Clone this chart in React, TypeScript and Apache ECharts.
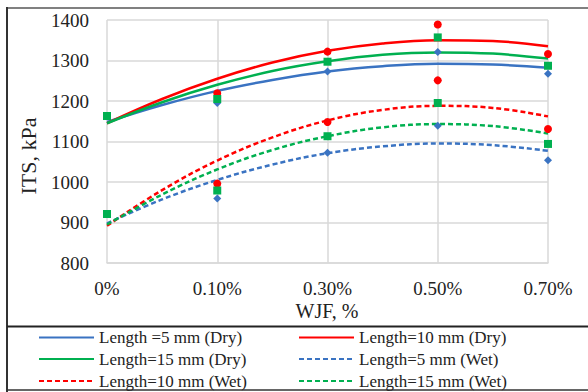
import React, { useEffect, useRef } from 'react';
import * as echarts from 'echarts';

const categories = ['0%', '0.10%', '0.30%', '0.50%', '0.70%'];
const catX = [0, 1, 2, 3, 4];
const yMin = 800;
const yMax = 1400;
const yInterval = 100;

// measured points (markers)
const dry5 = [1163, 1195, 1273, 1321, 1267];
const dry10 = [1163, 1219, 1322, 1389, 1316];
const dry15 = [1163, 1205, 1297, 1357, 1287];
const wet5 = [921, 959, 1072, 1139, 1054];
const wet10 = [921, 996, 1148, 1251, 1131];
const wet15 = [921, 979, 1113, 1195, 1094];

// polynomial trendlines at each category and half-way between
const trendX = [0, 0.5, 1, 1.5, 2, 2.5, 3, 3.5, 4];
const trendDry5 = [1148, 1190, 1225, 1252, 1273, 1286, 1292, 1290, 1282];
const trendDry10 = [1145, 1205, 1255, 1295, 1324, 1342, 1350, 1348, 1335];
const trendDry15 = [1145, 1197, 1240, 1274, 1298, 1314, 1320, 1317, 1305];
const trendWet5 = [898, 957, 1005, 1043, 1071, 1088, 1095, 1091, 1077];
const trendWet10 = [892, 980, 1053, 1110, 1152, 1178, 1188, 1183, 1162];
const trendWet15 = [895, 969, 1031, 1079, 1113, 1135, 1143, 1138, 1120];

const names = [
  'Length =5 mm (Dry)',
  'Length=10 mm (Dry)',
  'Length=15 mm (Dry)',
  'Length=5 mm (Wet)',
  'Length=10 mm (Wet)',
  'Length=15 mm (Wet)',
];

const BLUE = '#3a73c2';
const RED = '#ff0000';
const GREEN = '#00b050';
const FONT = 'Liberation Serif';
const TEXT = '#222222';

const pair = (xs: number[], ys: number[]) => ys.map((y, i) => [xs[i], y]);

export default function App() {
  const ref = useRef<HTMLDivElement>(null);
  useEffect(() => {
    if (!ref.current) return;
    const chart = echarts.init(ref.current, null, { renderer: 'svg' });

    const trend = (name: string, data: number[], color: string, dashed: boolean) => ({
      name,
      type: 'line',
      data: pair(trendX, data),
      smooth: 0.4,
      symbol: 'none',
      showSymbol: false,
      lineStyle: { color, width: 2.5, type: dashed ? [5, 3] : 'solid' },
      itemStyle: { color },
      z: 2,
    });
    const pts = (name: string, data: number[], color: string, symbol: string, size: number) => ({
      name,
      type: 'scatter',
      data: pair(catX, data),
      symbol,
      symbolSize: size,
      itemStyle: { color, opacity: 1 },
      z: 3,
    });

    const legendPos = [
      { left: 38, top: 327.5 },
      { left: 298, top: 327.5 },
      { left: 38, top: 349 },
      { left: 298, top: 349 },
      { left: 38, top: 371 },
      { left: 298, top: 371 },
    ];

    chart.setOption({
      animation: false,
      grid: { left: 107, right: 40, top: 20, bottom: 129 },
      legend: names.map((n, i) => ({
        data: [n],
        left: legendPos[i].left,
        top: legendPos[i].top,
        padding: 0,
        itemWidth: 55,
        itemHeight: 14,
        itemStyle: { opacity: 0 },
        textStyle: { fontFamily: FONT, fontSize: 17, color: TEXT, lineHeight: 20 },
        selectedMode: false,
      })),
      xAxis: {
        type: 'value',
        min: 0,
        max: 4,
        interval: 1,
        axisLine: { show: true, lineStyle: { color: '#d9d9d9', width: 1.5 } },
        axisTick: { show: false },
        splitLine: { show: true, lineStyle: { color: '#d9d9d9', width: 1.5 } },
        axisLabel: {
          fontFamily: FONT,
          fontSize: 19,
          color: TEXT,
          margin: 16,
          formatter: (v: number) => categories[Math.round(v)] ?? '',
        },
      },
      yAxis: {
        type: 'value',
        min: yMin,
        max: yMax,
        interval: yInterval,
        axisLine: { show: false },
        axisTick: { show: false },
        splitLine: { show: true, lineStyle: { color: '#d9d9d9', width: 1.5 } },
        axisLabel: {
          fontFamily: FONT,
          fontSize: 19,
          color: TEXT,
          margin: 18,
          formatter: (v: number) => String(v),
        },
      },
      graphic: [
        {
          type: 'text',
          x: 28,
          y: 156,
          rotation: Math.PI / 2,
          style: {
            text: 'ITS, kPa',
            fontFamily: FONT,
            fontSize: 22,
            fill: TEXT,
            align: 'center',
            verticalAlign: 'middle',
          },
        },
        {
          type: 'text',
          x: 327,
          y: 311,
          style: {
            text: 'WJF, %',
            fontFamily: FONT,
            fontSize: 20,
            fill: TEXT,
            align: 'center',
            verticalAlign: 'middle',
          },
        },
        { type: 'line', shape: { x1: 7, y1: 8, x2: 588, y2: 8 }, style: { stroke: '#808080', lineWidth: 2 } },
        { type: 'line', shape: { x1: 7, y1: 7, x2: 7, y2: 392 }, style: { stroke: '#333', lineWidth: 2 } },
        { type: 'line', shape: { x1: 7, y1: 326.5, x2: 588, y2: 326.5 }, style: { stroke: '#222', lineWidth: 2 } },
        { type: 'line', shape: { x1: 7, y1: 390, x2: 588, y2: 390 }, style: { stroke: '#333', lineWidth: 1.5 } },
      ],
      series: [
        trend(names[0], trendDry5, BLUE, false),
        trend(names[1], trendDry10, RED, false),
        trend(names[2], trendDry15, GREEN, false),
        trend(names[3], trendWet5, BLUE, true),
        trend(names[4], trendWet10, RED, true),
        trend(names[5], trendWet15, GREEN, true),
        pts('5 mm Dry', dry5, BLUE, 'diamond', 8),
        pts('10 mm Dry', dry10, RED, 'circle', 8),
        pts('15 mm Dry', dry15, GREEN, 'rect', 8),
        pts('5 mm Wet', wet5, BLUE, 'diamond', 8),
        pts('10 mm Wet', wet10, RED, 'circle', 8),
        pts('15 mm Wet', wet15, GREEN, 'rect', 8),
      ],
    });
    return () => chart.dispose();
  }, []);
  return (
    <div
      ref={ref}
      style={{ position: 'absolute', left: 0, top: 0, width: 588, height: 392, background: '#fff' }}
    />
  );
}
